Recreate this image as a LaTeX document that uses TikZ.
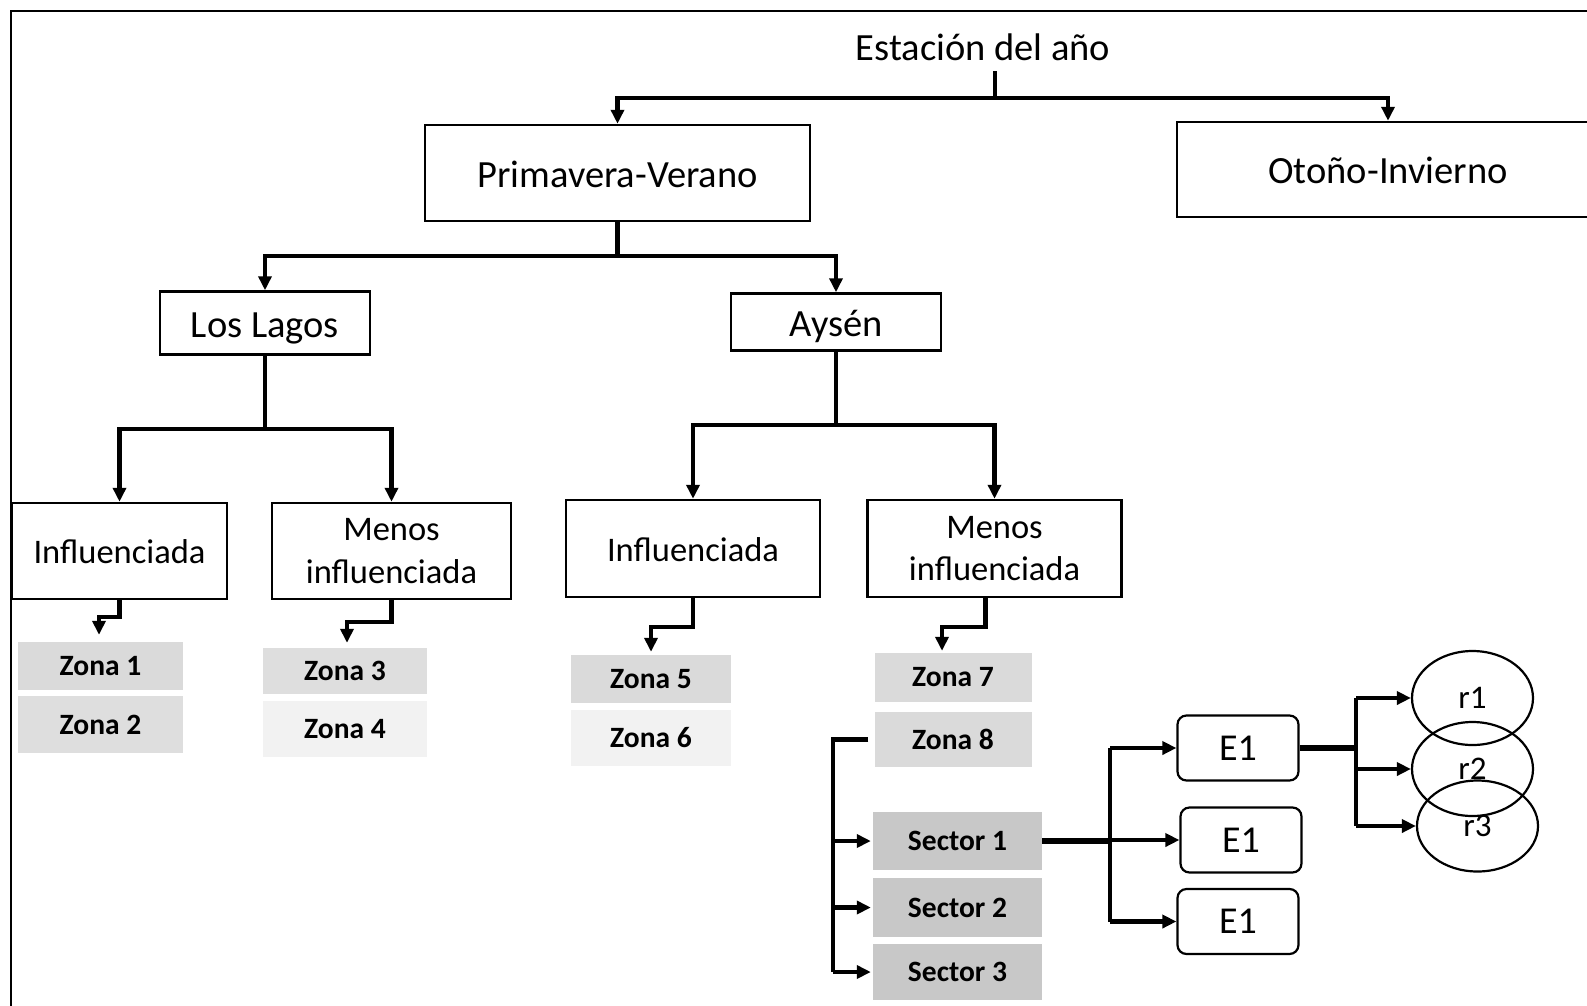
\documentclass[tikz,border=0pt]{standalone}
\usepackage{fontspec}
\setmainfont{Carlito}
\usetikzlibrary{arrows.meta,shapes.geometric}
\definecolor{zA}{HTML}{DADADA}
\definecolor{zB}{HTML}{DEDEDE}
\definecolor{zL}{HTML}{F2F2F2}
\definecolor{sG}{HTML}{C8C8C8}
\begin{document}
\begin{tikzpicture}[x=1pt,y=-1pt,
  conn/.style={line width=4.6pt},
  arr/.style={line width=4.6pt,-{Triangle[length=14pt,width=13pt]}},
  mybox/.style={draw,line width=2.5pt,inner sep=0pt,font=\fontsize{38.5}{46}\selectfont,text height=36pt,text depth=7.3pt},
  infbox/.style={draw,line width=2.5pt,inner sep=0pt,font=\fontsize{34.5}{42.5}\selectfont,text height=32.4pt,text depth=6.5pt},
  midbox/.style={draw,line width=2.5pt,inner sep=0pt,font=\fontsize{34.5}{42.5}\selectfont,align=center},
  zbox/.style={inner sep=0pt,font=\bfseries\fontsize{29.5}{35}\selectfont},
  ebox/.style={draw,line width=2.2pt,rounded corners=9pt,inner sep=0pt,minimum width=121pt,minimum height=65pt,font=\fontsize{38}{45}\selectfont},
  rnode/.style={draw,ellipse,line width=2.2pt,inner sep=0pt,minimum width=121pt,minimum height=94pt,font=\fontsize{33}{40}\selectfont}]
\useasboundingbox (0,0) rectangle (1587,1005);
\fill[white] (0,0) rectangle (1587,1005);
% frame
\draw[line width=2.5pt] (11,1012) -- (11,11) -- (1600,11);

% level 0-1
\node[font=\fontsize{38.5}{46}\selectfont,inner sep=0pt,anchor=base] (est) at (983,60) {Estación del año};
\coordinate (estb) at (995,71);
\coordinate (j0) at (995,98);
\node[mybox,minimum width=385pt,minimum height=96pt] (prim) at (617.5,173) {Primavera-Verano};
\node[mybox,minimum width=422pt,minimum height=95pt] (oto) at (1388,169.5) {Otoño-Invierno};
\draw[conn] (estb) -- (j0);
\draw[arr] (j0) -| (prim.north);
\draw[arr] (j0) -| (oto.north);

% level 2
\node[mybox,minimum width=210pt,minimum height=63pt] (lagos) at (265,323) {Los Lagos};
\node[mybox,minimum width=210pt,minimum height=57pt] (aysen) at (836,322) {Aysén};
\coordinate (j1) at (617.5,256);
\draw[conn] (prim.south) -- (j1);
\draw[arr] (j1) -| (lagos.north);
\draw[arr] (j1) -| (aysen.north);

% level 3
\node[infbox,minimum width=215pt,minimum height=96pt] (inf1) at (119.5,551) {Influenciada};
\node[midbox,minimum width=239pt,minimum height=96pt] (men1) at (391.5,551) {Menos\\influenciada};
\node[infbox,minimum width=254pt,minimum height=97pt] (inf2) at (693,548.5) {Influenciada};
\node[midbox,minimum width=254pt,minimum height=97pt] (men2) at (994.5,548.5) {Menos\\influenciada};
\coordinate (j2) at (265,429);
\draw[conn] (lagos.south) -- (j2);
\draw[arr] (j2) -| (inf1.north);
\draw[arr] (j2) -| (men1.north);
\coordinate (j3) at (836,425);
\draw[conn] (aysen.south) -- (j3);
\draw[arr] (j3) -| (inf2.north);
\draw[arr] (j3) -| (men2.north);

% zones
\node[zbox,fill=zA,minimum width=165pt,minimum height=48pt] (z1) at (100.5,666) {Zona 1};
\node[zbox,fill=zB,minimum width=165pt,minimum height=57pt] (z2) at (100.5,724.5) {Zona 2};
\node[zbox,fill=zB,minimum width=164pt,minimum height=46pt] (z3) at (345,671) {Zona 3};
\node[zbox,fill=zL,minimum width=164pt,minimum height=56pt] (z4) at (345,729) {Zona 4};
\node[zbox,fill=zA,minimum width=160pt,minimum height=48pt] (z5) at (651,679) {Zona 5};
\node[zbox,fill=zL,minimum width=160pt,minimum height=56pt] (z6) at (651,738) {Zona 6};
\node[zbox,fill=zA,minimum width=157pt,minimum height=49pt] (z7) at (953,677.5) {Zona 7};
\node[zbox,fill=zA,minimum width=157pt,minimum height=55pt] (z8) at (953,739.5) {Zona 8};

\coordinate (k1) at (99,617);
\coordinate (k2) at (347,622);
\coordinate (k3) at (651,627);
\coordinate (k4) at (942,627);
\draw[arr,shorten >=7pt] (inf1.south) |- (k1) -- (k1 |- z1.north);
\draw[arr,shorten >=5pt] (men1.south) |- (k2) -- (k2 |- z3.north);
\draw[arr,shorten >=3pt] (inf2.south) |- (k3) -- (k3 |- z5.north);
\draw[arr,shorten >=2pt] ([xshift=-9pt]men2.south) |- (k4) -- (k4 |- z7.north);

% sectors
\node[zbox,fill=sG,minimum width=169pt,minimum height=58pt] (s1) at (957.5,841) {Sector 1};
\node[zbox,fill=sG,minimum width=169pt,minimum height=59pt] (s2) at (957.5,907.5) {Sector 2};
\node[zbox,fill=sG,minimum width=169pt,minimum height=56pt] (s3) at (957.5,972) {Sector 3};
\coordinate (v1) at (833,739.5);
\draw[conn] ([xshift=-6pt]z8.west) -- (v1) -- (v1 |- s3.west);
\draw[arr,shorten >=2pt] (v1 |- s1.west) -- (s1.west);
\draw[arr,shorten >=2pt] (v1 |- s2.west) -- (s2.west);
\draw[arr,shorten >=2pt] (v1 |- s3.west) -- (s3.west);

% E boxes
\node[ebox] (e1) at (1238,748) {E1};
\node[ebox] (e2) at (1241,840) {E1};
\node[ebox] (e3) at (1238,921.5) {E1};
\coordinate (v2) at (1110,841);
\draw[line width=6.5pt] (s1.east) -- (v2);
\draw[conn] (v2 |- e1.west) -- (v2 |- e3.west);
\draw[arr] (v2 |- e1.west) -- (e1.west);
\draw[arr] (v2 |- e2.west) -- (e2.west);
\draw[arr] (v2 |- e3.west) -- (e3.west);

% r ellipses
\node[rnode] (r1) at (1472.5,698) {r1};
\node[rnode] (r2) at (1472.5,769) {r2};
\node[rnode,minimum height=91pt] (r3) at (1477.5,826) {r3};
\coordinate (v4) at (1356,748);
\draw[line width=5.5pt] (e1.east) -- (v4);
\draw[conn] (v4 |- r1.west) -- (v4 |- r3.west);
\draw[arr] (v4 |- r1.west) -- (r1.west);
\draw[arr] (v4 |- r2.west) -- (r2.west);
\draw[arr] (v4 |- r3.west) -- (r3.west);
\end{tikzpicture}
\end{document}
